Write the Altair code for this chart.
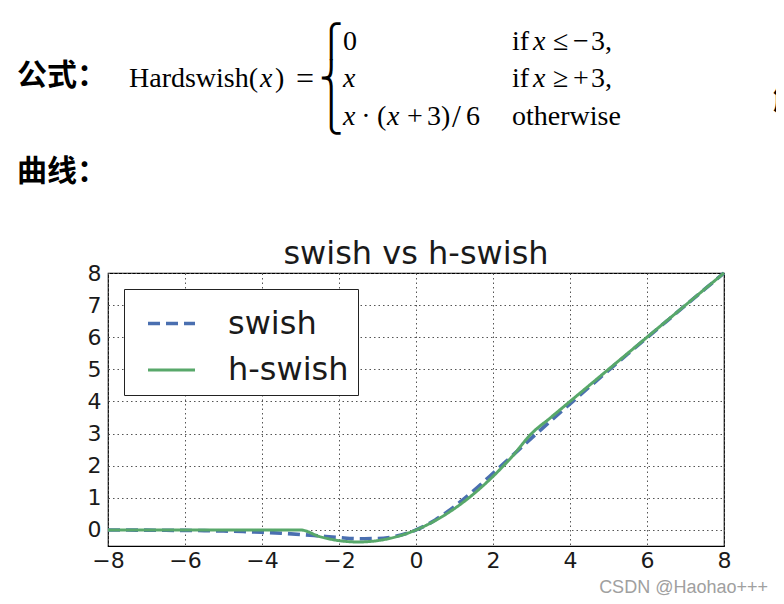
import altair as alt
import pandas as pd

# ---------------- data ----------------
x_values = [-8.0, -7.5, -7.0, -6.5, -6.0, -5.5, -5.0, -4.5, -4.0, -3.5, -3.0,
            -2.5, -2.0, -1.5, -1.0, -0.5, 0.0, 0.5, 1.0, 1.5, 2.0, 2.5, 3.0,
            3.5, 4.0, 4.5, 5.0, 5.5, 6.0, 6.5, 7.0, 7.5, 8.0]
swish_values = [-0.003, -0.004, -0.006, -0.010, -0.015, -0.022, -0.033, -0.049,
                -0.072, -0.103, -0.142, -0.190, -0.238, -0.274, -0.269, -0.189,
                0.0, 0.311, 0.731, 1.226, 1.762, 2.310, 2.858, 3.397, 3.928,
                4.451, 4.967, 5.478, 5.985, 6.490, 6.994, 7.496, 7.997]
hswish_values = [0.0, 0.0, 0.0, 0.0, 0.0, 0.0, 0.0, 0.0, 0.0, 0.0, 0.0,
                 -0.208, -0.333, -0.375, -0.333, -0.208, 0.0, 0.292, 0.667,
                 1.125, 1.667, 2.292, 3.0, 3.5, 4.0, 4.5, 5.0, 5.5, 6.0, 6.5,
                 7.0, 7.5, 8.0]
series_names = ["swish", "h-swish"]
x_ticks = [-8, -6, -4, -2, 0, 2, 4, 6, 8]
y_ticks = [0, 1, 2, 3, 4, 5, 6, 7, 8]
chart_title = "swish vs h-swish"

rows = []
for name, vals in zip(series_names, [swish_values, hswish_values]):
    for xv, yv in zip(x_values, vals):
        rows.append({"x": xv, "y": yv, "series": name})
df = pd.DataFrame(rows)

# plot area in page pixels: left 108, top 273
PL, PT = 108, 273

legend = alt.Legend(title=None, labelExpr="datum.label + '\u00a0'")

lines = alt.Chart(df).mark_line(interpolate="monotone").encode(
    x=alt.X("x:Q", scale=alt.Scale(domain=[-8, 8], nice=False),
            axis=alt.Axis(values=x_ticks, title=None, format="d")),
    y=alt.Y("y:Q", scale=alt.Scale(domain=[-0.5, 8], nice=False, zero=False),
            axis=alt.Axis(values=y_ticks, title=None, format="d")),
    color=alt.Color("series:N",
                    scale=alt.Scale(domain=series_names, range=["#4a6fb0", "#58a86a"]),
                    legend=legend),
    strokeDash=alt.StrokeDash("series:N",
                              scale=alt.Scale(domain=series_names, range=[[12, 6], [1, 0]]),
                              legend=legend),
    strokeWidth=alt.StrokeWidth("series:N",
                                scale=alt.Scale(domain=series_names, range=[3.6, 3.0]),
                                legend=None),
    order=alt.Order("series:N", sort="descending"),
)


def label(text, px, py, size, font, weight="normal", style="normal",
          align="left", color="black"):
    return alt.Chart(pd.DataFrame({"t": [text]})).mark_text(
        align=align, baseline="middle", fontSize=size, font=font,
        fontWeight=weight, fontStyle=style, color=color
    ).encode(text="t:N", x=alt.value(px - PL), y=alt.value(py - PT))


SERIF = "Liberation Serif"
CJK = "Noto Sans CJK SC"
FS = 28
R1, R2, R3 = 42, 79, 117
pieces = [
    label(chart_title, 416, 254, 32, "DejaVu Sans", align="center", color="#1a1a1a"),
    label("公式：", 17, 76, 30, CJK, weight="bold"),
    label("曲线：", 17, 172, 30, CJK, weight="bold"),
    label("解", 773, 100, 30, CJK, weight="bold"),
    label("Hardswish(", 129, R2, FS, SERIF),
    label("x", 260, R2, FS, SERIF, style="italic"),
    label(")", 275, R2, FS, SERIF),
    label("=", 305, R2, 32, SERIF, align="center"),
    label("⎧", 319, R1, 32, "DejaVu Sans"),
    label("⎨", 319, R2, 32, "DejaVu Sans"),
    label("⎩", 319, R3, 32, "DejaVu Sans"),
    label("0", 343, R1, FS, SERIF),
    label("x", 343, R2, FS, SERIF, style="italic"),
    label("x", 343, R3, FS, SERIF, style="italic"),
    label("·", 366, R3, FS, SERIF, align="center"),
    label("(", 377, R3, FS, SERIF),
    label("x", 387, R3, FS, SERIF, style="italic"),
    label("+", 415, R3, FS, SERIF, align="center"),
    label("3", 427, R3, FS, SERIF),
    label(")", 441, R3, FS, SERIF),
    label("/", 452, R3, 32, SERIF),
    label("6", 466, R3, FS, SERIF),
    label("if", 512, R1, FS, SERIF),
    label("x", 533, R1, FS, SERIF, style="italic"),
    label("≤", 553, R1, FS, SERIF),
    label("−", 573, R1, FS, SERIF),
    label("3,", 591, R1, FS, SERIF),
    label("if", 512, R2, FS, SERIF),
    label("x", 533, R2, FS, SERIF, style="italic"),
    label("≥", 553, R2, FS, SERIF),
    label("+", 573, R2, FS, SERIF),
    label("3,", 591, R2, FS, SERIF),
    label("otherwise", 512, R3, FS, SERIF),
    label("CSDN @Haohao+++", 768, 588, 18, "Liberation Sans", align="right",
          color="#a0a0a0"),
]

chart = alt.layer(lines, *pieces).properties(
    width=616,
    height=273,
    padding={"left": PL - 8, "top": PT - 8, "right": 768 - (PL - 8) - 616,
             "bottom": 588 - (PT - 8) - 273},
    autosize=alt.AutoSizeParams(type="none"),
    background="white",
).configure_view(
    stroke="black", strokeWidth=1.2
).configure_axis(
    labelFont="DejaVu Sans", labelFontSize=22, labelColor="#1a1a1a",
    ticks=False, tickSize=0, domain=False, labelFlush=False,
    grid=True, gridColor="#555555", gridDash=[1.5, 3], gridWidth=1, gridOpacity=1,
).configure_axisX(
    labelPadding=4
).configure_axisY(
    labelPadding=7
).configure_legend(
    orient="none", legendX=16, legendY=16,
    labelFont="DejaVu Sans", labelFontSize=32, labelColor="#1a1a1a",
    symbolType="stroke", symbolSize=2209, symbolStrokeWidth=3.5,
    symbolOffset=13, labelOffset=31, padding=9, rowPadding=5,
    strokeColor="#222222", fillColor="white", labelLimit=400,
)

chart.save("out.html", embed_options={"renderer": "svg", "actions": False})
